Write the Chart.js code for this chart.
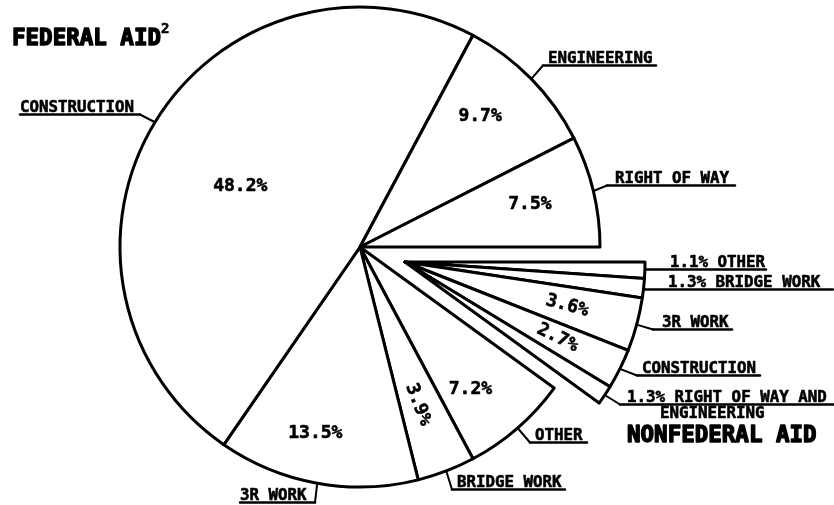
<!DOCTYPE html>
<html>
<head>
<meta charset="utf-8">
<script src="https://cdn.jsdelivr.net/npm/chart.js@4"></script>
<style>
  html, body { margin: 0; padding: 0; background: #fff; }
  #wrap { width: 834px; height: 505px; position: relative; }
</style>
</head>
<body>
<div id="wrap"><canvas id="aidPie"></canvas></div>
<script>
/**
 * Data (share of total, percent)
 */
const nonfederalCategories = ['OTHER', 'BRIDGE WORK', '3R WORK', 'CONSTRUCTION', 'RIGHT OF WAY AND ENGINEERING'];
const nonfederalShares = [1.1, 1.3, 3.6, 2.7, 1.3];
const federalCategories = ['OTHER', 'BRIDGE WORK', '3R WORK', 'CONSTRUCTION', 'ENGINEERING', 'RIGHT OF WAY'];
const federalShares = [7.2, 3.9, 13.5, 48.2, 9.7, 7.5];
const groupTitles = ['FEDERAL AID', 'NONFEDERAL AID'];

const categories = nonfederalCategories.concat(federalCategories);
const shares = nonfederalShares.concat(federalShares);

/**
 * Layout
 */
const explodeShift = { x: 45, y: 15 };
const labelFont = 'bold 15.8px "DejaVu Sans Mono", monospace';
const shareFont = 'bold 18px "DejaVu Sans Mono", monospace';
const titleFont = 'bold 22.5px "DejaVu Sans Mono", monospace';

// callouts: text position, underline span and where the leader meets it
const callouts = [
  { slice: 0, x: 670, y: 267, from: 647, to: 766, join: 647, share: true },
  { slice: 1, x: 668, y: 287, from: 645, to: 833, join: 645, share: true },
  { slice: 2, x: 662, y: 327, from: 653, to: 732, join: 653 },
  { slice: 3, x: 642, y: 373, from: 637, to: 760, join: 637 },
  { slice: 4, x: 627, y: 402, from: 620, to: 834, join: 620, share: true, wrapAt: 'ENGINEERING', x2: 660, y2: 418 },
  { slice: 5, x: 535, y: 440, from: 530, to: 587, join: 530 },
  { slice: 6, x: 457, y: 487, from: 452, to: 565, join: 452 },
  { slice: 7, x: 240, y: 500, from: 240, to: 315, join: 315 },
  { slice: 8, x: 20, y: 112, from: 20, to: 140, join: 140 },
  { slice: 9, x: 548, y: 63, from: 543, to: 656, join: 543 },
  { slice: 10, x: 615, y: 183, from: 607, to: 735, join: 607 },
];

// percent labels inside slices: radius fraction, angle nudge (deg), rotate along slice
const insideLabels = [
  { slice: 2, r: 0.70, da: 0, rotate: true },
  { slice: 3, r: 0.71, da: 0, rotate: true },
  { slice: 5, r: 0.75, da: 3.2 },
  { slice: 6, r: 0.70, da: 0.8, rotate: true },
  { slice: 7, r: 0.80, da: 3.2 },
  { slice: 8, r: 0.56, da: -4.3 },
  { slice: 9, r: 0.74, da: -3 },
  { slice: 10, r: 0.73, da: -0.6 },
];

/**
 * Plugins
 */
// move the nonfederal wedge out as one piece
const explodePlugin = {
  id: 'explode',
  afterDatasetUpdate(chart, args) {
    const meta = chart.getDatasetMeta(args.index);
    meta.data.forEach((arc, i) => {
      if (i < nonfederalShares.length) {
        arc.x += explodeShift.x;
        arc.y += explodeShift.y;
      }
    });
  },
};

// fill and lightly stroke, plotter lettering is heavy
function heavyText(ctx, text, x, y, weight) {
  ctx.lineWidth = weight;
  ctx.fillText(text, x, y);
  ctx.strokeText(text, x, y);
}

const labelPlugin = {
  id: 'labels',
  afterDraw(chart) {
    const ctx = chart.ctx;
    const arcs = chart.getDatasetMeta(0).data;
    ctx.save();
    ctx.fillStyle = '#000';
    ctx.strokeStyle = '#000';
    ctx.lineCap = 'round';
    ctx.lineJoin = 'round';

    // callouts with leader lines
    callouts.forEach((c) => {
      const arc = arcs[c.slice];
      const mid = (arc.startAngle + arc.endAngle) / 2;
      const px = arc.x + Math.cos(mid) * arc.outerRadius;
      const py = arc.y + Math.sin(mid) * arc.outerRadius;
      const uy = c.y + 2.5;
      ctx.lineWidth = 2;
      ctx.beginPath();
      ctx.moveTo(px, py);
      ctx.lineTo(c.join, uy);
      ctx.stroke();
      ctx.lineWidth = 2.5;
      ctx.beginPath();
      ctx.moveTo(c.from, uy);
      ctx.lineTo(c.to, uy);
      ctx.stroke();

      let text = (c.share ? shares[c.slice].toFixed(1) + '% ' : '') + categories[c.slice];
      let rest = null;
      if (c.wrapAt) {
        const cut = text.indexOf(c.wrapAt);
        rest = text.slice(cut).trim();
        text = text.slice(0, cut).trim();
      }
      ctx.font = labelFont;
      ctx.textAlign = 'left';
      ctx.textBaseline = 'alphabetic';
      heavyText(ctx, text, c.x, c.y, 0.6);
      if (rest) heavyText(ctx, rest, c.x2, c.y2, 0.6);
    });

    // percent labels inside slices
    ctx.font = shareFont;
    ctx.textAlign = 'center';
    ctx.textBaseline = 'middle';
    insideLabels.forEach((l) => {
      const arc = arcs[l.slice];
      const mid = (arc.startAngle + arc.endAngle) / 2;
      const a = mid + (l.da * Math.PI) / 180;
      const x = arc.x + Math.cos(a) * arc.outerRadius * l.r;
      const y = arc.y + Math.sin(a) * arc.outerRadius * l.r;
      ctx.save();
      ctx.translate(x, y);
      if (l.rotate) ctx.rotate(mid);
      heavyText(ctx, shares[l.slice].toFixed(1) + '%', 0, 0, 0.6);
      ctx.restore();
    });

    // group titles
    ctx.font = titleFont;
    ctx.textAlign = 'left';
    ctx.textBaseline = 'alphabetic';
    heavyText(ctx, groupTitles[0], 12, 45, 1.4);
    heavyText(ctx, groupTitles[1], 627, 442, 1.4);
    ctx.font = 'bold 14px "DejaVu Sans Mono", monospace';
    heavyText(ctx, '2', 161, 33, 0.6);
    ctx.restore();
  },
};

/**
 * Chart
 */
function createAidPie(selector) {
  const ctx = document.getElementById(selector).getContext('2d');
  return new Chart(ctx, {
    type: 'pie',
    data: {
      labels: categories,
      datasets: [
        {
          data: shares,
          backgroundColor: '#fff',
          borderColor: '#000',
          borderWidth: 3,
          borderJoinStyle: 'round',
        },
      ],
    },
    options: {
      responsive: true,
      maintainAspectRatio: false,
      animation: false,
      events: [],
      rotation: 90,
      radius: 240,
      layout: { padding: { left: 0, right: 114, top: 0, bottom: 11 } },
      plugins: {
        legend: { display: false },
        tooltip: { enabled: false },
      },
    },
    plugins: [explodePlugin, labelPlugin],
  });
}

createAidPie('aidPie');
</script>
</body>
</html>
